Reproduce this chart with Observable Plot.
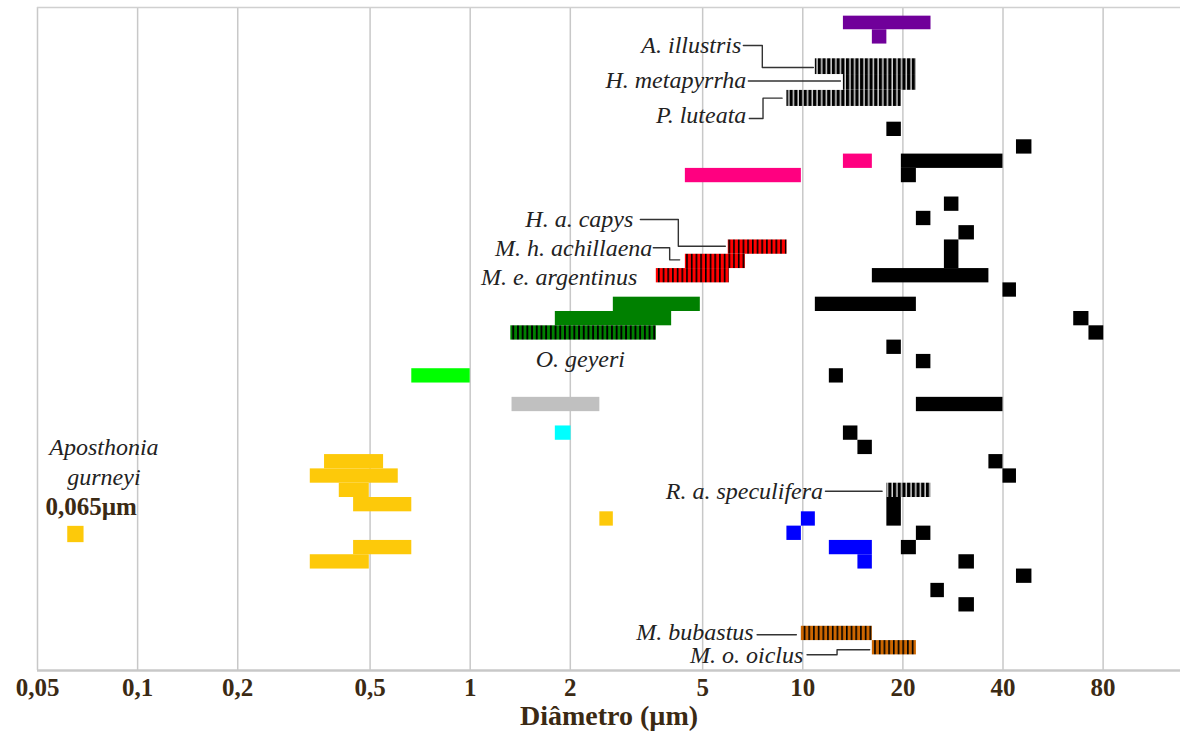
<!DOCTYPE html>
<html>
<head>
<meta charset="utf-8">
<script src="https://cdn.jsdelivr.net/npm/d3@7"></script>
<script src="https://cdn.jsdelivr.net/npm/@observablehq/plot@0.6"></script>
<style>
  body { margin: 0; background: #fff; }
  #chart svg { display: block; }
</style>
</head>
<body>
<div id="chart"></div>
<script>
// Diameter axis (µm, logarithmic) and its labelled ticks
const tickValues = [0.05, 0.1, 0.2, 0.5, 1, 2, 5, 10, 20, 40, 80];
const xDomain = [0.05, 136.7];
// Rows run top to bottom; each bar occupies one row unless a span is given
const yDomain = [-0.245, 46.09];

// Bars: [from µm, to µm, row, span]
const purpleBars = [[13.25, 24.3, 0.36, 0.95], [16.19, 17.9, 1.31]];
const stripedBlackBars = [
  [10.91, 21.96, 3.34, 1.1],   // A. illustris
  [13.25, 21.96, 4.44, 1.1],   // H. metapyrrha
  [8.96, 19.79, 5.55, 1.12],   // P. luteata
  [17.9, 24.28, 33]            // R. a. speculifera
];
const pinkBars = [[13.25, 16.19, 10], [4.436, 9.904, 11]];
const stripedRedBars = [
  [5.97, 8.97, 16],            // H. a. capys
  [4.436, 6.722, 17],          // M. h. achillaena
  [3.628, 6.015, 18]           // M. e. argentinus
];
const greenBars = [[2.694, 4.92, 20], [1.803, 4.034, 21]];
const stripedGreenBars = [[1.3248, 3.628, 22]];   // O. geyeri
const limeBars = [[0.6674, 1.0, 25]];
const greyBars = [[1.336, 2.454, 27]];
const cyanBars = [[1.803, 2.01, 29]];
const yellowBars = [
  [0.3648, 0.549, 31], [0.3305, 0.6077, 32], [0.404, 0.4973, 33],
  [0.4461, 0.6674, 34], [2.454, 2.694, 35], [0.4461, 0.6674, 37],
  [0.3305, 0.4973, 38]
];
const blueBars = [[9.904, 10.91, 35], [8.96, 9.904, 36], [12.02, 16.19, 37], [14.65, 16.19, 38]];
const stripedBrownBars = [
  [9.904, 16.19, 43],          // M. bubastus
  [16.19, 21.96, 44]           // M. o. oiclus
];
const blackBars = [
  [17.9, 19.79, 7.77], [43.91, 48.87, 9], [19.79, 39.99, 10], [19.79, 21.96, 11],
  [26.66, 29.48, 13], [21.96, 24.28, 14], [29.48, 32.82, 15], [26.66, 29.48, 16, 2],
  [16.19, 36.28, 18], [39.99, 43.91, 19], [10.91, 21.96, 20], [65.27, 72.53, 21],
  [72.53, 80.35, 22], [17.9, 19.79, 23], [21.96, 24.28, 24], [12.02, 13.25, 25],
  [21.96, 39.99, 27], [13.25, 14.65, 29], [14.65, 16.19, 30], [36.28, 39.99, 31],
  [39.99, 43.91, 32], [17.9, 19.79, 34, 2], [21.96, 24.28, 36], [19.79, 21.96, 37],
  [29.48, 32.82, 38], [43.91, 48.87, 39], [24.28, 26.66, 40], [29.48, 32.82, 41]
];

// Smallest species, shown as a single point
const smallest = {name: "Aposthonia gurneyi", size: 0.065, row: 36.55};

// Species names: [text, x µm, row]
const speciesLabels = [
  ["A. illustris", 6.536, 2.41],
  ["H. metapyrrha", 6.766, 4.86],
  ["P. luteata", 6.766, 7.3],
  ["H. a. capys", 3.094, 14.57],
  ["M. h. achillaena", 3.529, 16.6],
  ["M. e. argentinus", 3.181, 18.6],
  ["R. a. speculifera", 11.51, 33.56],
  ["M. bubastus", 7.117, 43.4],
  ["M. o. oiclus", 10.04, 45.0]
];
const centeredLabels = [
  ["O. geyeri", 2.144, 24.19],
  ["Aposthonia\ngurneyi", 0.0792, 31.42]
];
const valueLabels = [["0,065µm", 0.0725, 34.67]];

// Leader lines from names to bars: [name, [[x µm, row], ...]]
const leaders = [
  ["A. illustris", [[6.627, 2.41], [7.557, 2.41], [7.557, 3.95], [10.76, 3.95]]],
  ["H. metapyrrha", [[6.86, 4.89], [12.98, 4.89]]],
  ["P. luteata", [[6.907, 7.51], [7.594, 7.51], [7.594, 6.09], [8.666, 6.09]]],
  ["H. a. capys", [[3.248, 14.57], [4.225, 14.57], [4.225, 16.44], [5.85, 16.44]]],
  ["M. h. achillaena", [[3.553, 16.55], [3.979, 16.55], [3.979, 17.39], [4.264, 17.39]]],
  ["R. a. speculifera", [[11.7, 33.56], [17.32, 33.56]]],
  ["M. bubastus", [[7.289, 43.59], [9.566, 43.59]]],
  ["M. o. oiclus", [[10.3, 44.99], [12.68, 44.99], [12.68, 44.64], [15.89, 44.64]]]
];

const axisTitle = "Diâmetro (µm)";

// Fill for each group: plain colours, or striped patterns defined below
const groups = [
  [purpleBars, "#70009a"],
  [stripedBlackBars, "url(#stripes-black)"],
  [pinkBars, "#ff0080"],
  [stripedRedBars, "url(#stripes-red)"],
  [greenBars, "#008000"],
  [stripedGreenBars, "url(#stripes-green)"],
  [limeBars, "#00ff00"],
  [greyBars, "#c0c0c0"],
  [cyanBars, "#00ffff"],
  [yellowBars, "#fdc90a"],
  [blueBars, "#0000ff"],
  [stripedBrownBars, "url(#stripes-brown)"],
  [blackBars, "#000000"]
];
const bars = groups.flatMap(([rows, fill]) =>
  rows.map(([x1, x2, row, span = 1]) => ({x1, x2, y1: row, y2: row + span, fill})));

const leaderPoints = leaders.flatMap(([name, pts]) => pts.map(([x, y]) => ({name, x, y})));
const toText = (rows) => rows.map(([text, x, y]) => ({text, x, y}));

const serif = "'Liberation Serif', 'Times New Roman', serif";
const brown = "#3b2a14";
const decimalComma = (d) => String(d).replace(".", ",");

const svg = Plot.plot({
  width: 1180,
  height: 731,
  marginLeft: 37,
  marginRight: 0,
  marginTop: 7,
  marginBottom: 61,
  style: {fontFamily: serif, background: "#fff"},
  x: {type: "log", domain: xDomain, axis: null},
  y: {domain: yDomain, reverse: true, axis: null},
  color: {type: "identity"},
  marks: [
    Plot.gridX(tickValues, {stroke: "#c8c8c8", strokeOpacity: 1, strokeWidth: 1.5}),
    Plot.ruleY([yDomain[0]], {stroke: "#d0d0d0", strokeWidth: 1.5}),
    Plot.ruleY([yDomain[1]], {stroke: "#c8c8c8", strokeWidth: 2.5}),
    Plot.rect(bars, {x1: "x1", x2: "x2", y1: "y1", y2: "y2", fill: "fill"}),
    Plot.dot([smallest], {x: "size", y: "row", symbol: "square", r: 9.2, fill: "#fdc90a"}),
    Plot.line(leaderPoints, {x: "x", y: "y", z: "name", stroke: "#333", strokeWidth: 1.4}),
    Plot.text(toText(speciesLabels), {
      x: "x", y: "y", text: "text", textAnchor: "end",
      fontFamily: serif, fontStyle: "italic", fontSize: 24, fill: "#222"
    }),
    Plot.text(toText(centeredLabels), {
      x: "x", y: "y", text: "text", textAnchor: "middle", lineHeight: 1.24,
      fontFamily: serif, fontStyle: "italic", fontSize: 24, fill: "#222"
    }),
    Plot.text(toText(valueLabels), {
      x: "x", y: "y", text: "text", textAnchor: "middle",
      fontFamily: serif, fontWeight: "bold", fontSize: 25, fill: brown
    }),
    // Tick labels along the bottom of the frame
    Plot.text(tickValues, {
      x: (d) => d, text: decimalComma, frameAnchor: "bottom", lineAnchor: "middle", dy: 17,
      fontFamily: serif, fontWeight: "bold", fontSize: 25, fill: brown
    }),
    Plot.text([axisTitle], {
      frameAnchor: "bottom", lineAnchor: "middle", dy: 46, text: (d) => d,
      fontFamily: serif, fontWeight: "bold", fontSize: 28, fill: brown
    })
  ]
});

// Striped fills used by the hatched bars
const defs = d3.select(svg).insert("defs", ":first-child");
function stripes(id, background, stripe, stripeWidth) {
  const period = 4.7;
  const p = defs.append("pattern")
    .attr("id", id)
    .attr("patternUnits", "userSpaceOnUse")
    .attr("width", period)
    .attr("height", 10);
  p.append("rect").attr("width", period).attr("height", 10).attr("fill", background);
  p.append("rect").attr("width", stripeWidth).attr("height", 10).attr("fill", stripe);
}
stripes("stripes-black", "#d4d4d4", "#000", 3.2);
stripes("stripes-red", "#ff0000", "#000", 1.6);
stripes("stripes-green", "#008000", "#000", 1.9);
stripes("stripes-brown", "#cc6600", "#000", 1.6);

document.getElementById("chart").appendChild(svg);
</script>
</body>
</html>
